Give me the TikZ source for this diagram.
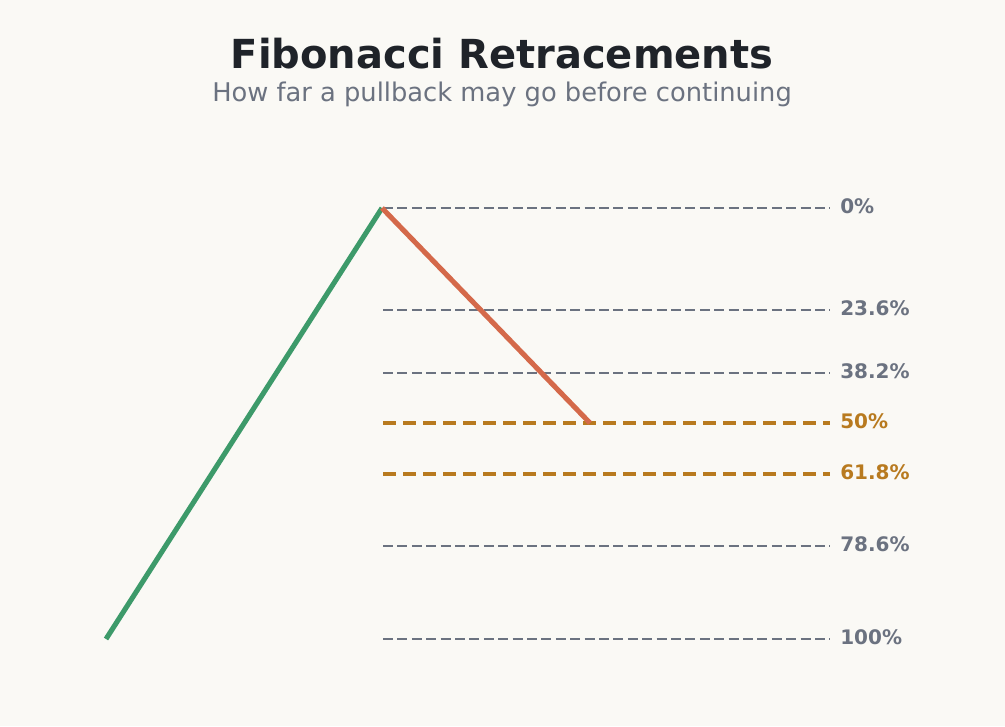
\documentclass[tikz,border=0pt]{standalone}
\usepackage{fontspec}
\setmainfont{DejaVu Sans}
\usetikzlibrary{positioning}
\definecolor{bgcol}{HTML}{FAF9F5}
\definecolor{inkcol}{HTML}{1F2329}
\definecolor{slatecol}{HTML}{6B7280}
\definecolor{goldcol}{HTML}{B87A1F}
\definecolor{upcol}{HTML}{3D9A6A}
\definecolor{downcol}{HTML}{D4694A}
\begin{document}
\begin{tikzpicture}[x=0.75pt,y=-0.75pt]
  \tikzstyle{level line}=[draw=slatecol,line width=1.9pt,dash pattern=on 7.5pt off 3.3pt]
  \tikzstyle{key line}=[draw=goldcol,line width=2.3pt,dash pattern=on 10pt off 5pt]
  \tikzstyle{level label}=[anchor=west,inner sep=0pt,font=\fontsize{15}{18}\selectfont\bfseries]
  \tikzstyle{swing}=[line width=3.8pt]
  \fill[bgcol] (0,0) rectangle (1005,726);
  \useasboundingbox (0,0) rectangle (1005,726);
  \node(title)[text=inkcol,font=\fontsize{30}{36}\selectfont\bfseries] at (502,54) {Fibonacci Retracements};
  \node(sub)[text=slatecol,font=\fontsize{19.3}{24}\selectfont] at (502,94) {How far a pullback may go before continuing};
  % price swing
  \coordinate(low) at (106,639);
  \coordinate(peak) at (382,208);
  \coordinate(pull) at (590,423);
  % retracement levels
  \foreach \y/\lab/\sty/\col in {208/0\%/level line/slatecol,310/23.6\%/level line/slatecol,
      373/38.2\%/level line/slatecol,423/50\%/key line/goldcol,474/61.8\%/key line/goldcol,
      546/78.6\%/level line/slatecol,639/100\%/level line/slatecol}{
    \coordinate(a\y) at (383,\y);
    \coordinate(b\y) at (830,\y);
    \draw[\sty] (a\y) -- (b\y);
    \node(t\y)[level label,text=\col] at (840,\y-2) {\lab};
  }
  \draw[swing,upcol] (low) -- (peak);
  \draw[swing,downcol] (peak) -- (pull);
\end{tikzpicture}
\end{document}
